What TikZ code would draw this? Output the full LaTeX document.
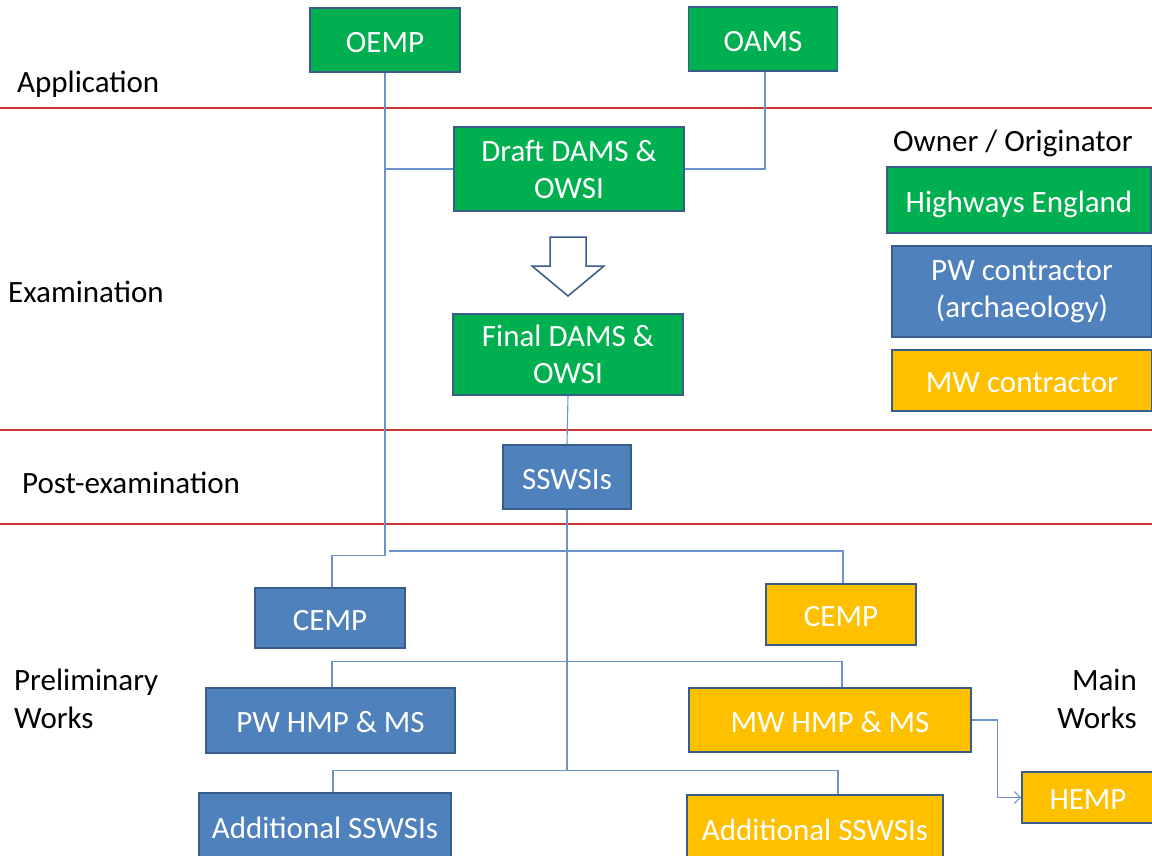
\documentclass[tikz,border=0pt]{standalone}
\usepackage{fontspec}
\setmainfont{Carlito}
\usetikzlibrary{arrows.meta,calc}
\definecolor{hegreen}{HTML}{00B050}
\definecolor{pwblue}{HTML}{4F81BD}
\definecolor{mwyellow}{HTML}{FFC000}
\definecolor{bord}{HTML}{385D8A}
\definecolor{connc}{HTML}{6A93CC}
\definecolor{redl}{HTML}{CC3333}
\tikzset{
  box/.style={rectangle, draw=bord, line width=1.8pt, text=white, align=center, inner sep=0pt,
    font=\fontsize{31}{37}\selectfont},
  oneline/.style={text height=28pt, text depth=4pt},
  gbox/.style={box, fill=hegreen},
  bbox/.style={box, fill=pwblue},
  ybox/.style={box, fill=mwyellow},
  conn/.style={draw=connc, line width=1.1pt},
  redline/.style={draw=redl, line width=1.1pt},
  lbl/.style={inner sep=0pt, font=\fontsize{31}{37}\selectfont, text=black}
}
\begin{document}
\begin{tikzpicture}[x=1pt,y=-1pt]
\useasboundingbox (0,0) rectangle (1152,855);
% phase separators
\draw[redline] (0,108) -- (1152,108);
\draw[redline] (0,430) -- (1152,430);
\draw[redline] (0,524) -- (1152,524);
% phase labels
\node[lbl, anchor=base west] (lapp) at (17,92) {Application};
\node[lbl, anchor=base west] (lexam) at (8,302) {Examination};
\node[lbl, anchor=base west] (lpost) at (22,493) {Post-examination};
\node[lbl, anchor=base west] (lpre1) at (14,690) {Preliminary};
\node[lbl, anchor=base west] (lpre2) at (14,728) {Works};
\node[lbl, anchor=base east] (lmain1) at (1137,690) {Main};
\node[lbl, anchor=base east] (lmain2) at (1137,728) {Works};
\node[lbl, anchor=base west] (lowner) at (893,151) {Owner / Originator};
% legend
\node[gbox, oneline, minimum width=264pt, minimum height=66pt] (he) at (1019,200) {Highways England};
\node[bbox, minimum width=260pt, minimum height=91pt] (pw) at (1022,291.5) {PW contractor\\(archaeology)};
\node[ybox, oneline, minimum width=260pt, minimum height=61pt] (mw) at (1022,380.5) {MW contractor};
% main nodes
\node[gbox, oneline, minimum width=150pt, minimum height=64pt] (oemp) at (385,40) {OEMP};
\node[gbox, oneline, minimum width=149pt, minimum height=64pt] (oams) at (763,39) {OAMS};
\node[gbox, minimum width=230pt, minimum height=84pt] (draft) at (569,169) {Draft DAMS \&\\OWSI};
\node[gbox, minimum width=230pt, minimum height=81pt] (final) at (568,354.5) {Final DAMS \&\\OWSI};
\node[bbox, oneline, minimum width=128pt, minimum height=64pt] (sswsi) at (567,477) {SSWSIs};
\node[bbox, oneline, minimum width=150pt, minimum height=60pt] (cempb) at (330,618) {CEMP};
\node[ybox, oneline, minimum width=150pt, minimum height=61pt] (cempy) at (841,614.5) {CEMP};
\node[bbox, oneline, minimum width=249pt, minimum height=65pt] (pwhmp) at (330.5,720.5) {PW HMP \& MS};
\node[ybox, oneline, minimum width=282pt, minimum height=64pt] (mwhmp) at (830,720) {MW HMP \& MS};
\node[bbox, oneline, minimum width=252pt, minimum height=66pt] (addb) at (325,826) {Additional SSWSIs};
\node[ybox, oneline, minimum width=256pt, minimum height=66pt] (addy) at (815,828) {Additional SSWSIs};
\node[ybox, oneline, minimum width=132pt, minimum height=51pt] (hemp) at (1088,797.5) {HEMP};
% hollow arrow
\draw[draw=bord, line width=1.5pt, fill=white, line join=miter]
  (550,237) -- (586,237) -- (586,266) -- (604,266) -- (568,296) -- (532,266) -- (550,266) -- cycle;
% connectors
\coordinate (j1) at (389,551);
\draw[conn] (oemp.south) -- ++(0,483) -| ([xshift=2pt]cempb.north);
\draw[conn] (draft.west) -- (draft.west -| oemp.south);
\draw[conn] (draft.east) -| ([xshift=2pt]oams.south);
\draw[conn] (final.south) -- (sswsi.north);
\draw[conn] (j1) -| ([xshift=2pt]cempy.north);
\draw[conn] (sswsi.south) -- ++(0,261) coordinate (j2);
\draw[conn] ([xshift=1.5pt]pwhmp.north) -- ++(0,-26) -| ([xshift=12pt]mwhmp.north);
\draw[conn] ([xshift=8pt]addb.north) |- ([xshift=23pt]addy.north |- j2) -- ([xshift=23pt]addy.north);
\draw[conn, -{Straight Barb[length=6pt,width=12pt]}] (mwhmp.east) -- ++(26,0) |- (hemp.west);
\end{tikzpicture}
\end{document}
